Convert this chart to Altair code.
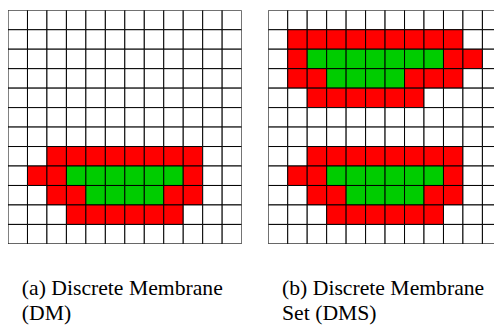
import altair as alt
import pandas as pd

# Grid states: '.' empty, 'R' membrane (red), 'G' interior (green)
grid_dm = [
    "............",
    "............",
    "............",
    "............",
    "............",
    "............",
    "............",
    "..RRRRRRRR..",
    ".RRGGGGGGR..",
    "..RRGGGGRR..",
    "...RRRRRR...",
    "............",
]

grid_dms = [
    "............",
    ".RRRRRRRRR..",
    ".RGGGGGGGRR.",
    ".RRGGGGRRR..",
    "..RRRRRR....",
    "............",
    "............",
    "..RRRRRRRR..",
    ".RRGGGGGGR..",
    "..RRGGGGRR..",
    "...RRRRRR...",
    "............",
]

caption_a = ["(a) Discrete Membrane", "(DM)"]
caption_b = ["(b) Discrete Membrane", "Set (DMS)"]

states = [".", "R", "G"]
state_colors = ["#ffffff", "#ff0000", "#00cc00"]


def cells(grid):
    rows = []
    for r, line in enumerate(grid):
        for c, s in enumerate(line):
            rows.append({"c": c, "c2": c + 1, "r": r, "r2": r + 1, "s": s})
    return pd.DataFrame(rows)


CELL = 19.75
N = 12


def panel(grid, caption, ncols_visible, width):
    df = cells(grid)
    return (
        alt.Chart(df)
        .mark_rect(stroke="black", strokeWidth=1, clip=True)
        .encode(
            x=alt.X("c:Q", scale=alt.Scale(domain=[0, ncols_visible], nice=False, zero=False), axis=None),
            x2="c2:Q",
            y=alt.Y("r:Q", scale=alt.Scale(domain=[0, N], reverse=True, nice=False), axis=None),
            y2="r2:Q",
            color=alt.Color("s:N", scale=alt.Scale(domain=states, range=state_colors), legend=None),
        )
        .properties(
            width=width,
            height=CELL * N,
            title=alt.TitleParams(
                text=caption,
                orient="bottom",
                anchor="start",
                font="Liberation Serif, Times New Roman, serif",
                fontSize=22,
                fontWeight="normal",
                color="black",
                offset=35,
                dx=14,
                lineHeight=25,
            ),
        )
    )


left = panel(grid_dm, caption_a, N, CELL * N)
right_width = 229
right = panel(grid_dms, caption_b, right_width / CELL, right_width)

chart = (
    alt.hconcat(left, right, spacing=27)
    .properties(padding=0)
    .configure_view(stroke=None)
)

chart.save("out.html", embed_options={"renderer": "svg", "actions": False})
